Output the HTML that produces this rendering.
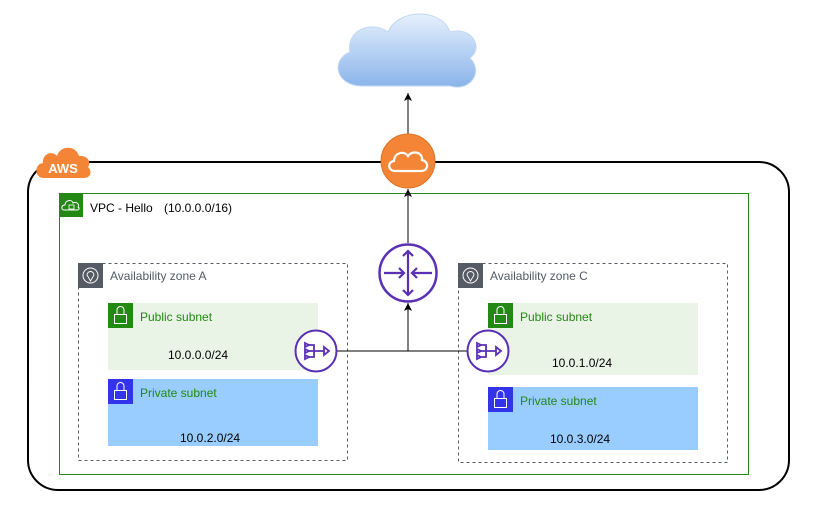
<!DOCTYPE html>
<html><head><meta charset="utf-8"><style>
html,body{margin:0;padding:0;background:#fff}
svg{display:block}
text{font-family:"Liberation Sans",Arial,sans-serif}
</style></head><body>
<svg width="813" height="507" viewBox="0 0 813 507" xmlns="http://www.w3.org/2000/svg">
<defs>
<linearGradient id="cg" x1="0" y1="0" x2="0" y2="1"><stop offset="0" stop-color="#e6f0fd"/><stop offset="1" stop-color="#8ab4ea"/></linearGradient>
<marker id="ar" markerWidth="8" markerHeight="8" refX="8" refY="4" orient="auto" markerUnits="userSpaceOnUse"><path d="M0,0 L8,4 L0,8 L2,4 Z" fill="#000"/></marker>
</defs>
<!-- internet cloud -->
<path d="M362,86 C336,86 330,60 350,52 C346,30 372,20 388,32 C398,8 442,8 450,32 C472,26 484,48 470,58 C484,72 470,92 450,86 Z" fill="url(#cg)" stroke="#c2d8f3" stroke-width="1"/>
<!-- AWS outer -->
<rect x="28" y="162" width="761" height="328" rx="30" fill="none" stroke="#000" stroke-width="2"/>
<!-- AWS badge -->
<path d="M44,178 C34,178 34,164 43,163 C42,154 52,150 57,156 C60,145 76,145 79,156 C87,155 92,162 88,167 C93,172 90,178 84,178 Z" fill="#f58536"/>
<text x="63" y="173" font-size="13" font-weight="bold" fill="#fff" text-anchor="middle">AWS</text>
<!-- arrow up to internet -->
<line x1="408" y1="135" x2="408" y2="93" stroke="#000" stroke-width="1" marker-end="url(#ar)"/>
<!-- VPC -->
<rect x="59.5" y="193.5" width="689" height="281" fill="none" stroke="#248814" stroke-width="1"/>
<rect x="59" y="193" width="24" height="24" fill="#248814"/>
<path d="M64,210 C61,210 61,205 65,205 C65,200 72,199 73,203 C77,201 80,205 78,207 C80,208 79,210 77,210 Z" fill="none" stroke="#fff" stroke-width="1"/>
<rect x="69" y="205" width="5" height="4" fill="none" stroke="#fff" stroke-width="0.8"/>
<text x="90" y="212" font-size="12" fill="#000">VPC - Hello</text>
<text x="164" y="212" font-size="12" fill="#000">(10.0.0.0/16)</text>
<!-- IGW -->
<line x1="408" y1="243" x2="408" y2="189" stroke="#000" stroke-width="1" marker-end="url(#ar)"/>
<circle cx="408" cy="161" r="27" fill="#f58536" stroke="#d9742a" stroke-width="1"/>
<path d="M395,171 C388,171 387,162 394,161 C394,153 404,150 408,156 C412,150 423,152 422,160 C429,161 429,171 421,171 Z" fill="none" stroke="#fff" stroke-width="2.2"/>
<!-- AZ A -->
<rect x="78.5" y="263.5" width="269" height="197" fill="none" stroke="#545b64" stroke-dasharray="3,3"/>
<rect x="78" y="263" width="25" height="25" fill="#545b64"/>
<circle cx="90.5" cy="275.5" r="7.5" fill="none" stroke="#fff" stroke-width="1"/>
<path d="M90.5,281 L87,275 A3.5,3.5 0 1 1 94,275 Z" fill="none" stroke="#fff" stroke-width="0.9"/>
<text x="110" y="280" font-size="12" fill="#545b64">Availability zone A</text>
<!-- AZ C -->
<rect x="458.5" y="263.5" width="269" height="199" fill="none" stroke="#545b64" stroke-dasharray="3,3"/>
<rect x="458" y="263" width="25" height="25" fill="#545b64"/>
<circle cx="470.5" cy="275.5" r="7.5" fill="none" stroke="#fff" stroke-width="1"/>
<path d="M470.5,281 L467,275 A3.5,3.5 0 1 1 474,275 Z" fill="none" stroke="#fff" stroke-width="0.9"/>
<text x="490" y="280" font-size="12" fill="#545b64">Availability zone C</text>
<!-- subnets A -->
<rect x="108" y="303" width="210" height="67" fill="#e9f3e6"/>
<rect x="108" y="303" width="25" height="25" fill="#248814"/>
<text x="140" y="321" font-size="12" fill="#248814">Public subnet</text>
<text x="168" y="359" font-size="12" fill="#000">10.0.0.0/24</text>
<rect x="108" y="379" width="210" height="67" fill="#99ccff"/>
<rect x="108" y="379" width="25" height="25" fill="#3334ea"/>
<text x="140" y="397" font-size="12" fill="#248814">Private subnet</text>
<text x="180" y="442" font-size="12" fill="#000">10.0.2.0/24</text>
<!-- subnets C -->
<rect x="488" y="303" width="210" height="72" fill="#e9f3e6"/>
<rect x="488" y="303" width="25" height="25" fill="#248814"/>
<text x="520" y="321" font-size="12" fill="#248814">Public subnet</text>
<text x="552" y="367" font-size="12" fill="#000">10.0.1.0/24</text>
<rect x="488" y="387" width="210" height="63" fill="#99ccff"/>
<rect x="488" y="387" width="25" height="25" fill="#3334ea"/>
<text x="520" y="405" font-size="12" fill="#248814">Private subnet</text>
<text x="550" y="443" font-size="12" fill="#000">10.0.3.0/24</text>
<!-- lock icons -->
<g fill="none" stroke="#fff" stroke-width="1">
<rect x="114.5" y="314.5" width="12" height="9"/><path d="M117,314 V310 A3.5,3.5 0 0 1 124,310 V314"/>
<rect x="114.5" y="390.5" width="12" height="9"/><path d="M117,390 V386 A3.5,3.5 0 0 1 124,386 V390"/>
<rect x="494.5" y="314.5" width="12" height="9"/><path d="M497,314 V310 A3.5,3.5 0 0 1 504,310 V314"/>
<rect x="494.5" y="398.5" width="12" height="9"/><path d="M497,398 V394 A3.5,3.5 0 0 1 504,394 V398"/>
</g>
<!-- connectors -->
<line x1="337" y1="351" x2="467" y2="351" stroke="#000" stroke-width="1"/>
<line x1="408" y1="351" x2="408" y2="303" stroke="#000" stroke-width="1" marker-end="url(#ar)"/>
<!-- router -->
<circle cx="408" cy="273" r="28.5" fill="#fff" stroke="#5a30b5" stroke-width="2.5"/>
<g stroke="#5a30b5" stroke-width="2.2" fill="none">
<line x1="408" y1="251" x2="408" y2="295"/>
<path d="M403,256 L408,251 L413,256"/><path d="M403,290 L408,295 L413,290"/>
<line x1="384" y1="273" x2="404" y2="273"/><path d="M399,268 L404,273 L399,278"/>
<line x1="432" y1="273" x2="412" y2="273"/><path d="M417,268 L412,273 L417,278"/>
</g>
<!-- NAT gateways -->
<g id="nat">
<circle cx="316" cy="351" r="20.5" fill="#fff" stroke="#5a30b5" stroke-width="2"/>
<g stroke="#5a30b5" stroke-width="1.8" fill="none">
<path d="M305,343 L309,345 L305,347 Z"/><path d="M305,349 L309,351 L305,353 Z"/><path d="M305,355 L309,357 L305,359 Z"/>
<path d="M309,345 H314 V357 H309 M309,351 H324"/><path d="M324,347 L329,351 L324,355 Z"/>
</g>
</g>
<use href="#nat" transform="translate(172,0)"/>
</svg>
</body></html>
